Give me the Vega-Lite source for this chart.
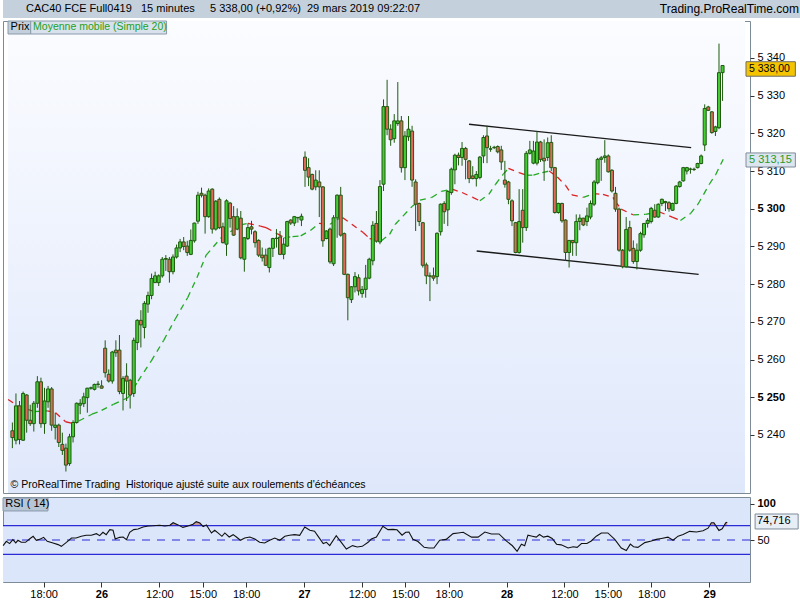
{
  "$schema": "https://vega.github.io/schema/vega-lite/v6.json",
  "padding": 0,
  "spacing": 2,
  "background": "white",
  "config": {
    "font": "Liberation Sans",
    "view": {"stroke": "#7d8b99"},
    "axis": {"labelFont": "Liberation Sans", "labelFontSize": 11, "labelColor": "#000000", "tickColor": "#333333", "domain": false, "grid": false}
  },
  "datasets": {
    "candles": [
      {"i": -26, "o": 5241.1, "h": 5243.3, "l": 5236.5, "c": 5239.3},
      {"i": -25, "o": 5238.6, "h": 5251.0, "l": 5237.5, "c": 5247.7},
      {"i": -24, "o": 5247.7, "h": 5249.0, "l": 5237.5, "c": 5238.8},
      {"i": -23, "o": 5238.6, "h": 5251.5, "l": 5238.4, "c": 5251.0},
      {"i": -22, "o": 5250.6, "h": 5250.8, "l": 5240.6, "c": 5243.9},
      {"i": -21, "o": 5243.9, "h": 5248.0, "l": 5242.4, "c": 5243.0},
      {"i": -20, "o": 5243.0, "h": 5249.0, "l": 5240.9, "c": 5248.4},
      {"i": -19, "o": 5248.4, "h": 5255.6, "l": 5247.2, "c": 5254.1},
      {"i": -18, "o": 5254.1, "h": 5255.2, "l": 5241.9, "c": 5243.0},
      {"i": -17, "o": 5243.0, "h": 5252.5, "l": 5240.3, "c": 5249.0},
      {"i": -16, "o": 5248.8, "h": 5253.0, "l": 5247.2, "c": 5252.2},
      {"i": -15, "o": 5252.2, "h": 5252.7, "l": 5241.1, "c": 5242.6},
      {"i": -14, "o": 5242.0, "h": 5245.9, "l": 5238.8, "c": 5242.6},
      {"i": -13, "o": 5242.6, "h": 5243.0, "l": 5236.8, "c": 5238.0},
      {"i": -12, "o": 5237.5, "h": 5240.6, "l": 5234.7, "c": 5235.9},
      {"i": -11, "o": 5236.5, "h": 5237.7, "l": 5230.3, "c": 5232.0},
      {"i": -10, "o": 5232.4, "h": 5240.3, "l": 5231.8, "c": 5239.5},
      {"i": -9, "o": 5239.5, "h": 5243.9, "l": 5238.0, "c": 5243.3},
      {"i": -8, "o": 5243.3, "h": 5248.6, "l": 5243.0, "c": 5248.4},
      {"i": -7, "o": 5247.9, "h": 5249.5, "l": 5245.5, "c": 5248.4},
      {"i": -6, "o": 5248.3, "h": 5251.2, "l": 5247.4, "c": 5250.1},
      {"i": -5, "o": 5249.9, "h": 5252.5, "l": 5245.9, "c": 5252.4},
      {"i": -4, "o": 5252.4, "h": 5252.8, "l": 5252.0, "c": 5252.5},
      {"i": -3, "o": 5252.1, "h": 5253.6, "l": 5251.8, "c": 5253.4},
      {"i": -2, "o": 5253.4, "h": 5254.3, "l": 5252.5, "c": 5253.5},
      {"i": -1, "o": 5253.0, "h": 5254.5, "l": 5252.4, "c": 5252.4},
      {"i": 0, "o": 5263.0, "h": 5265.1, "l": 5255.2, "c": 5256.5},
      {"i": 1, "o": 5256.1, "h": 5257.4, "l": 5253.9, "c": 5254.3},
      {"i": 2, "o": 5254.3, "h": 5262.3, "l": 5253.6, "c": 5262.0},
      {"i": 3, "o": 5262.5, "h": 5265.1, "l": 5260.7, "c": 5261.8},
      {"i": 4, "o": 5262.5, "h": 5266.5, "l": 5250.8, "c": 5251.5},
      {"i": 5, "o": 5251.0, "h": 5255.6, "l": 5246.5, "c": 5255.0},
      {"i": 6, "o": 5255.6, "h": 5259.0, "l": 5249.0, "c": 5254.3},
      {"i": 7, "o": 5254.5, "h": 5254.9, "l": 5247.0, "c": 5250.6},
      {"i": 8, "o": 5251.0, "h": 5265.8, "l": 5250.1, "c": 5265.1},
      {"i": 9, "o": 5264.5, "h": 5270.7, "l": 5262.5, "c": 5270.4},
      {"i": 10, "o": 5270.4, "h": 5273.1, "l": 5263.2, "c": 5269.2},
      {"i": 11, "o": 5268.5, "h": 5275.5, "l": 5265.6, "c": 5274.9},
      {"i": 12, "o": 5274.7, "h": 5278.0, "l": 5272.4, "c": 5277.0},
      {"i": 13, "o": 5277.0, "h": 5282.8, "l": 5276.0, "c": 5281.5},
      {"i": 14, "o": 5280.4, "h": 5283.3, "l": 5280.4, "c": 5282.2},
      {"i": 15, "o": 5280.4, "h": 5282.6, "l": 5279.5, "c": 5282.2},
      {"i": 16, "o": 5282.2, "h": 5287.2, "l": 5281.7, "c": 5286.6},
      {"i": 17, "o": 5286.6, "h": 5287.7, "l": 5283.5, "c": 5286.8},
      {"i": 18, "o": 5286.6, "h": 5287.2, "l": 5280.4, "c": 5283.3},
      {"i": 19, "o": 5283.3, "h": 5287.9, "l": 5282.6, "c": 5287.2},
      {"i": 20, "o": 5287.2, "h": 5290.5, "l": 5286.8, "c": 5289.6},
      {"i": 21, "o": 5289.6, "h": 5292.0, "l": 5288.5, "c": 5291.2},
      {"i": 22, "o": 5291.2, "h": 5292.5, "l": 5289.0, "c": 5290.0},
      {"i": 23, "o": 5290.1, "h": 5291.5, "l": 5287.5, "c": 5288.4},
      {"i": 24, "o": 5287.9, "h": 5294.5, "l": 5287.7, "c": 5291.6},
      {"i": 25, "o": 5291.5, "h": 5296.3, "l": 5291.0, "c": 5296.2},
      {"i": 26, "o": 5296.7, "h": 5304.5, "l": 5296.0, "c": 5303.6},
      {"i": 27, "o": 5304.1, "h": 5305.6, "l": 5303.0, "c": 5303.6},
      {"i": 28, "o": 5303.6, "h": 5304.0, "l": 5293.4, "c": 5297.9},
      {"i": 29, "o": 5297.9, "h": 5305.4, "l": 5297.6, "c": 5304.7},
      {"i": 30, "o": 5305.2, "h": 5305.4, "l": 5293.4, "c": 5294.6},
      {"i": 31, "o": 5294.6, "h": 5302.3, "l": 5294.2, "c": 5302.0},
      {"i": 32, "o": 5302.5, "h": 5303.0, "l": 5294.6, "c": 5295.0},
      {"i": 33, "o": 5295.2, "h": 5296.3, "l": 5290.8, "c": 5291.0},
      {"i": 34, "o": 5290.6, "h": 5302.5, "l": 5287.5, "c": 5302.1},
      {"i": 35, "o": 5301.5, "h": 5301.8, "l": 5295.0, "c": 5297.4},
      {"i": 36, "o": 5297.9, "h": 5300.7, "l": 5292.8, "c": 5293.0},
      {"i": 37, "o": 5294.6, "h": 5300.1, "l": 5294.3, "c": 5297.9},
      {"i": 38, "o": 5297.5, "h": 5299.4, "l": 5286.6, "c": 5287.0},
      {"i": 39, "o": 5286.6, "h": 5292.5, "l": 5283.3, "c": 5292.3},
      {"i": 40, "o": 5292.1, "h": 5296.1, "l": 5291.7, "c": 5295.0},
      {"i": 41, "o": 5295.2, "h": 5296.8, "l": 5293.2, "c": 5294.6},
      {"i": 42, "o": 5293.9, "h": 5294.3, "l": 5289.7, "c": 5291.0},
      {"i": 43, "o": 5291.6, "h": 5291.9, "l": 5287.2, "c": 5287.7},
      {"i": 44, "o": 5287.7, "h": 5289.7, "l": 5286.0, "c": 5287.0},
      {"i": 45, "o": 5287.7, "h": 5289.4, "l": 5284.8, "c": 5285.0},
      {"i": 46, "o": 5284.4, "h": 5289.7, "l": 5283.1, "c": 5289.5},
      {"i": 47, "o": 5289.5, "h": 5292.3, "l": 5287.2, "c": 5292.1},
      {"i": 48, "o": 5292.1, "h": 5294.6, "l": 5289.7, "c": 5292.2},
      {"i": 49, "o": 5292.5, "h": 5294.1, "l": 5287.7, "c": 5287.9},
      {"i": 50, "o": 5287.9, "h": 5292.3, "l": 5286.6, "c": 5290.6},
      {"i": 51, "o": 5290.1, "h": 5296.8, "l": 5289.9, "c": 5296.6},
      {"i": 52, "o": 5297.0, "h": 5297.2, "l": 5295.7, "c": 5296.2},
      {"i": 53, "o": 5296.2, "h": 5298.1, "l": 5295.4, "c": 5297.9},
      {"i": 54, "o": 5297.6, "h": 5297.8, "l": 5296.3, "c": 5297.7},
      {"i": 55, "o": 5297.0, "h": 5298.7, "l": 5295.4, "c": 5298.0},
      {"i": 56, "o": 5313.7, "h": 5315.2, "l": 5305.8, "c": 5310.2},
      {"i": 57, "o": 5310.9, "h": 5313.4, "l": 5306.0, "c": 5308.4},
      {"i": 58, "o": 5309.1, "h": 5309.3, "l": 5304.9, "c": 5305.2},
      {"i": 59, "o": 5305.8, "h": 5310.2, "l": 5304.9, "c": 5307.6},
      {"i": 60, "o": 5307.1, "h": 5310.2, "l": 5297.8, "c": 5305.8},
      {"i": 61, "o": 5305.8, "h": 5306.0, "l": 5289.9, "c": 5291.5},
      {"i": 62, "o": 5292.1, "h": 5294.3, "l": 5291.9, "c": 5294.1},
      {"i": 63, "o": 5294.6, "h": 5295.0, "l": 5285.4, "c": 5285.9},
      {"i": 64, "o": 5285.4, "h": 5298.3, "l": 5284.8, "c": 5297.6},
      {"i": 65, "o": 5297.6, "h": 5303.8, "l": 5292.3, "c": 5303.6},
      {"i": 66, "o": 5303.6, "h": 5305.8, "l": 5292.6, "c": 5293.0},
      {"i": 67, "o": 5293.4, "h": 5293.7, "l": 5282.4, "c": 5282.6},
      {"i": 68, "o": 5282.6, "h": 5282.8, "l": 5270.4, "c": 5276.4},
      {"i": 69, "o": 5275.9, "h": 5279.5, "l": 5275.0, "c": 5279.3},
      {"i": 70, "o": 5279.3, "h": 5283.2, "l": 5277.8, "c": 5282.0},
      {"i": 71, "o": 5281.7, "h": 5282.6, "l": 5277.0, "c": 5278.2},
      {"i": 72, "o": 5277.5, "h": 5279.5, "l": 5276.4, "c": 5278.6},
      {"i": 73, "o": 5278.6, "h": 5285.1, "l": 5276.4, "c": 5281.6},
      {"i": 74, "o": 5281.6, "h": 5287.0, "l": 5281.3, "c": 5286.6},
      {"i": 75, "o": 5286.2, "h": 5296.7, "l": 5285.0, "c": 5295.6},
      {"i": 76, "o": 5296.1, "h": 5299.4, "l": 5291.0, "c": 5291.4},
      {"i": 77, "o": 5291.2, "h": 5307.6, "l": 5290.6, "c": 5305.9},
      {"i": 78, "o": 5306.5, "h": 5329.0, "l": 5304.7, "c": 5327.1},
      {"i": 79, "o": 5327.1, "h": 5334.2, "l": 5319.5, "c": 5321.1},
      {"i": 80, "o": 5321.1, "h": 5322.4, "l": 5316.7, "c": 5318.3},
      {"i": 81, "o": 5318.6, "h": 5325.1, "l": 5317.5, "c": 5323.3},
      {"i": 82, "o": 5322.6, "h": 5333.6, "l": 5322.0, "c": 5323.3},
      {"i": 83, "o": 5323.3, "h": 5324.6, "l": 5309.6, "c": 5310.9},
      {"i": 84, "o": 5310.9, "h": 5320.6, "l": 5307.6, "c": 5319.3},
      {"i": 85, "o": 5319.1, "h": 5324.6, "l": 5318.0, "c": 5321.1},
      {"i": 86, "o": 5320.6, "h": 5322.0, "l": 5305.8, "c": 5307.6},
      {"i": 87, "o": 5307.1, "h": 5307.8, "l": 5294.1, "c": 5301.2},
      {"i": 88, "o": 5301.4, "h": 5301.6, "l": 5295.4, "c": 5296.6},
      {"i": 89, "o": 5296.3, "h": 5296.5, "l": 5284.4, "c": 5285.0},
      {"i": 90, "o": 5285.1, "h": 5285.7, "l": 5280.0, "c": 5282.2},
      {"i": 91, "o": 5282.2, "h": 5283.1, "l": 5275.5, "c": 5282.1},
      {"i": 92, "o": 5282.2, "h": 5284.4, "l": 5280.9, "c": 5281.6},
      {"i": 93, "o": 5282.0, "h": 5293.7, "l": 5280.0, "c": 5293.5},
      {"i": 94, "o": 5293.9, "h": 5301.4, "l": 5292.9, "c": 5301.2},
      {"i": 95, "o": 5301.4, "h": 5302.0, "l": 5296.0, "c": 5299.2},
      {"i": 96, "o": 5299.7, "h": 5304.9, "l": 5295.4, "c": 5304.6},
      {"i": 97, "o": 5304.3, "h": 5310.9, "l": 5303.7, "c": 5310.5},
      {"i": 98, "o": 5310.3, "h": 5314.6, "l": 5306.5, "c": 5314.2},
      {"i": 99, "o": 5314.2, "h": 5314.9, "l": 5311.5, "c": 5313.6},
      {"i": 100, "o": 5313.6, "h": 5317.7, "l": 5311.4, "c": 5316.0},
      {"i": 101, "o": 5316.0, "h": 5316.4, "l": 5307.8, "c": 5313.1},
      {"i": 102, "o": 5312.7, "h": 5312.9, "l": 5306.8, "c": 5308.0},
      {"i": 103, "o": 5308.7, "h": 5311.3, "l": 5307.8, "c": 5308.0},
      {"i": 104, "o": 5308.0, "h": 5310.0, "l": 5305.9, "c": 5309.1},
      {"i": 105, "o": 5308.3, "h": 5314.0, "l": 5307.8, "c": 5313.7},
      {"i": 106, "o": 5314.0, "h": 5319.5, "l": 5312.1, "c": 5318.9},
      {"i": 107, "o": 5319.3, "h": 5322.0, "l": 5312.1, "c": 5316.2},
      {"i": 108, "o": 5315.8, "h": 5316.7, "l": 5315.1, "c": 5315.9},
      {"i": 109, "o": 5316.2, "h": 5316.7, "l": 5315.8, "c": 5316.3},
      {"i": 110, "o": 5316.5, "h": 5316.8, "l": 5314.7, "c": 5315.1},
      {"i": 111, "o": 5315.6, "h": 5316.7, "l": 5310.3, "c": 5312.4},
      {"i": 112, "o": 5307.6, "h": 5312.7, "l": 5305.6, "c": 5306.5},
      {"i": 113, "o": 5307.1, "h": 5307.4, "l": 5301.2, "c": 5302.5},
      {"i": 114, "o": 5302.1, "h": 5302.5, "l": 5295.4, "c": 5296.8},
      {"i": 115, "o": 5296.3, "h": 5296.5, "l": 5288.2, "c": 5288.4},
      {"i": 116, "o": 5288.4, "h": 5305.2, "l": 5288.1, "c": 5296.6},
      {"i": 117, "o": 5299.6, "h": 5305.2, "l": 5291.0, "c": 5295.0},
      {"i": 118, "o": 5295.0, "h": 5315.3, "l": 5294.1, "c": 5314.7},
      {"i": 119, "o": 5314.7, "h": 5318.0, "l": 5314.4, "c": 5315.6},
      {"i": 120, "o": 5312.1, "h": 5318.0, "l": 5311.8, "c": 5315.3},
      {"i": 121, "o": 5312.1, "h": 5320.6, "l": 5311.5, "c": 5317.7},
      {"i": 122, "o": 5317.7, "h": 5318.0, "l": 5312.4, "c": 5313.1},
      {"i": 123, "o": 5313.4, "h": 5318.4, "l": 5307.4, "c": 5312.7},
      {"i": 124, "o": 5313.6, "h": 5318.9, "l": 5312.7, "c": 5317.5},
      {"i": 125, "o": 5317.6, "h": 5319.5, "l": 5310.0, "c": 5310.9},
      {"i": 126, "o": 5310.9, "h": 5311.1, "l": 5298.7, "c": 5299.0},
      {"i": 127, "o": 5299.0, "h": 5301.6, "l": 5298.7, "c": 5301.4},
      {"i": 128, "o": 5301.4, "h": 5301.6, "l": 5296.3, "c": 5296.8},
      {"i": 129, "o": 5297.0, "h": 5297.2, "l": 5286.2, "c": 5288.4},
      {"i": 130, "o": 5288.4, "h": 5291.7, "l": 5284.4, "c": 5291.6},
      {"i": 131, "o": 5291.6, "h": 5291.7, "l": 5287.5, "c": 5291.0},
      {"i": 132, "o": 5291.0, "h": 5298.5, "l": 5287.5, "c": 5296.6},
      {"i": 133, "o": 5296.6, "h": 5298.5, "l": 5294.3, "c": 5297.5},
      {"i": 134, "o": 5297.5, "h": 5297.6, "l": 5295.4, "c": 5295.7},
      {"i": 135, "o": 5296.6, "h": 5300.3, "l": 5295.4, "c": 5298.1},
      {"i": 136, "o": 5297.8, "h": 5302.2, "l": 5297.2, "c": 5301.4},
      {"i": 137, "o": 5301.2, "h": 5307.6, "l": 5300.7, "c": 5307.1},
      {"i": 138, "o": 5306.9, "h": 5313.5, "l": 5306.5, "c": 5313.1},
      {"i": 139, "o": 5313.1, "h": 5314.0, "l": 5307.4, "c": 5313.5},
      {"i": 140, "o": 5313.6, "h": 5318.2, "l": 5312.2, "c": 5314.0},
      {"i": 141, "o": 5314.0, "h": 5314.4, "l": 5309.6, "c": 5309.8},
      {"i": 142, "o": 5310.2, "h": 5310.5, "l": 5304.3, "c": 5304.7},
      {"i": 143, "o": 5304.1, "h": 5305.8, "l": 5299.2, "c": 5299.9},
      {"i": 144, "o": 5299.9, "h": 5300.3, "l": 5288.6, "c": 5289.0},
      {"i": 145, "o": 5289.0, "h": 5289.3, "l": 5284.2, "c": 5284.6},
      {"i": 146, "o": 5284.6, "h": 5297.8, "l": 5284.4, "c": 5294.5},
      {"i": 147, "o": 5295.0, "h": 5296.8, "l": 5288.6, "c": 5289.0},
      {"i": 148, "o": 5289.5, "h": 5291.6, "l": 5285.4, "c": 5286.0},
      {"i": 149, "o": 5286.0, "h": 5290.8, "l": 5283.9, "c": 5289.0},
      {"i": 150, "o": 5289.0, "h": 5293.9, "l": 5288.6, "c": 5293.4},
      {"i": 151, "o": 5293.1, "h": 5296.2, "l": 5292.3, "c": 5296.1},
      {"i": 152, "o": 5296.1, "h": 5297.5, "l": 5295.0, "c": 5296.9},
      {"i": 153, "o": 5296.6, "h": 5300.5, "l": 5296.1, "c": 5300.1},
      {"i": 154, "o": 5299.6, "h": 5301.2, "l": 5297.6, "c": 5297.8},
      {"i": 155, "o": 5297.8, "h": 5301.4, "l": 5297.6, "c": 5301.2},
      {"i": 156, "o": 5301.4, "h": 5302.7, "l": 5300.7, "c": 5302.5},
      {"i": 157, "o": 5301.9, "h": 5302.1, "l": 5299.4, "c": 5301.6},
      {"i": 158, "o": 5301.6, "h": 5302.0, "l": 5299.2, "c": 5300.0},
      {"i": 159, "o": 5299.6, "h": 5301.6, "l": 5299.4, "c": 5301.4},
      {"i": 160, "o": 5301.4, "h": 5306.3, "l": 5301.2, "c": 5306.0},
      {"i": 161, "o": 5305.9, "h": 5307.4, "l": 5305.6, "c": 5307.1},
      {"i": 162, "o": 5307.4, "h": 5311.1, "l": 5307.2, "c": 5310.9},
      {"i": 163, "o": 5310.0, "h": 5311.1, "l": 5309.1, "c": 5310.9},
      {"i": 164, "o": 5310.5, "h": 5310.9, "l": 5309.3, "c": 5310.5},
      {"i": 165, "o": 5310.5, "h": 5310.9, "l": 5310.0, "c": 5310.4},
      {"i": 166, "o": 5310.9, "h": 5312.2, "l": 5310.7, "c": 5312.0},
      {"i": 167, "o": 5312.0, "h": 5314.4, "l": 5311.8, "c": 5314.0},
      {"i": 168, "o": 5316.9, "h": 5327.7, "l": 5315.3, "c": 5326.6},
      {"i": 169, "o": 5327.0, "h": 5327.3, "l": 5325.9, "c": 5326.1},
      {"i": 170, "o": 5325.7, "h": 5325.9, "l": 5319.9, "c": 5320.2},
      {"i": 171, "o": 5320.5, "h": 5322.0, "l": 5319.3, "c": 5321.7},
      {"i": 172, "o": 5321.5, "h": 5343.8, "l": 5321.1, "c": 5336.1},
      {"i": 173, "o": 5336.1, "h": 5338.1, "l": 5328.6, "c": 5338.0}
    ],
    "ma": [
      {"i": -27.2, "ma": 5249.4}, {"i": -24.5, "ma": 5247.7}, {"i": -19.9, "ma": 5246.2},
      {"i": -16.2, "ma": 5246.4}, {"i": -13.9, "ma": 5245.9}, {"i": -11.1, "ma": 5243.5},
      {"i": -9.3, "ma": 5243.1}, {"i": -7.4, "ma": 5243.7}, {"i": -3.7, "ma": 5245.5},
      {"i": -1, "ma": 5246.5}, {"i": 2.3, "ma": 5248.1}, {"i": 6.4, "ma": 5249.9},
      {"i": 9.2, "ma": 5254.3}, {"i": 12.9, "ma": 5259.6}, {"i": 16.4, "ma": 5265.1},
      {"i": 19.6, "ma": 5270.7}, {"i": 23.1, "ma": 5276.4}, {"i": 25.7, "ma": 5281.7},
      {"i": 28.3, "ma": 5287.7}, {"i": 32.5, "ma": 5292.3}, {"i": 38, "ma": 5295.7},
      {"i": 40, "ma": 5296.1}, {"i": 43.5, "ma": 5295.4}, {"i": 45.1, "ma": 5295.0},
      {"i": 48.2, "ma": 5293.4}, {"i": 50.2, "ma": 5292.3}, {"i": 52.5, "ma": 5292.6},
      {"i": 54.8, "ma": 5292.8}, {"i": 57.6, "ma": 5294.3}, {"i": 59.9, "ma": 5296.1},
      {"i": 63.1, "ma": 5295.9}, {"i": 64.9, "ma": 5297.2}, {"i": 66.6, "ma": 5297.6},
      {"i": 69.1, "ma": 5295.9}, {"i": 72.3, "ma": 5293.7}, {"i": 74.1, "ma": 5292.1},
      {"i": 77.4, "ma": 5291.5}, {"i": 79.7, "ma": 5293.2}, {"i": 81.3, "ma": 5295.9},
      {"i": 83.5, "ma": 5298.1}, {"i": 86, "ma": 5300.6}, {"i": 88.2, "ma": 5302.3},
      {"i": 91.5, "ma": 5303.0}, {"i": 94.2, "ma": 5304.6}, {"i": 97.2, "ma": 5305.2},
      {"i": 100, "ma": 5304.3}, {"i": 103, "ma": 5303.0}, {"i": 105, "ma": 5302.1},
      {"i": 107.5, "ma": 5303.8}, {"i": 109.4, "ma": 5306.5}, {"i": 111.5, "ma": 5309.1},
      {"i": 113, "ma": 5310.7}, {"i": 116, "ma": 5309.6}, {"i": 118, "ma": 5308.9},
      {"i": 120, "ma": 5308.9}, {"i": 122.5, "ma": 5309.6}, {"i": 124.4, "ma": 5310.0},
      {"i": 126.7, "ma": 5308.4}, {"i": 129, "ma": 5306.2}, {"i": 130.8, "ma": 5303.7},
      {"i": 134, "ma": 5303.0}, {"i": 136.8, "ma": 5304.0}, {"i": 139.5, "ma": 5303.8},
      {"i": 142.3, "ma": 5303.0}, {"i": 143, "ma": 5301.9}, {"i": 144.6, "ma": 5299.9},
      {"i": 147.9, "ma": 5298.4}, {"i": 151.4, "ma": 5298.5}, {"i": 155.2, "ma": 5299.2},
      {"i": 158.9, "ma": 5297.8}, {"i": 161.2, "ma": 5296.9}, {"i": 164, "ma": 5298.7},
      {"i": 166.1, "ma": 5301.2}, {"i": 167.7, "ma": 5303.8}, {"i": 169.3, "ma": 5306.5},
      {"i": 171.1, "ma": 5309.1}, {"i": 173.2, "ma": 5313.15}
    ],
    "rsi": [
      {"i": -27.2, "v": 42.2}, {"i": -26.3, "v": 48.2}, {"i": -25.4, "v": 45.0}, {"i": -24.5, "v": 50.5},
      {"i": -23.7, "v": 45.9}, {"i": -23.1, "v": 49.6}, {"i": -22.2, "v": 46.8}, {"i": -21.0, "v": 46.8},
      {"i": -19.9, "v": 51.4}, {"i": -18.9, "v": 55.1}, {"i": -18.0, "v": 49.6}, {"i": -16.9, "v": 51.4},
      {"i": -16.0, "v": 53.7}, {"i": -15.0, "v": 48.2}, {"i": -13.4, "v": 45.9}, {"i": -12.0, "v": 43.6},
      {"i": -11.1, "v": 41.2}, {"i": -9.7, "v": 46.8}, {"i": -8.3, "v": 52.8}, {"i": -7.0, "v": 52.8},
      {"i": -5.6, "v": 55.1}, {"i": -4.2, "v": 56.5}, {"i": -2.8, "v": 56.5}, {"i": -1.4, "v": 58.8},
      {"i": -0.5, "v": 56.1}, {"i": 0.4, "v": 60.7}, {"i": 1.3, "v": 57.4}, {"i": 2.3, "v": 64.4},
      {"i": 3.2, "v": 63.5}, {"i": 3.8, "v": 51.4}, {"i": 5.0, "v": 53.7}, {"i": 6.0, "v": 54.2},
      {"i": 6.9, "v": 50.5}, {"i": 7.8, "v": 60.7}, {"i": 8.9, "v": 64.4}, {"i": 10.1, "v": 65.3},
      {"i": 11.5, "v": 68.1}, {"i": 12.9, "v": 69.5}, {"i": 14.2, "v": 69.8}, {"i": 16.1, "v": 70.5},
      {"i": 17.5, "v": 69.5}, {"i": 18.9, "v": 70.5}, {"i": 19.8, "v": 74.0}, {"i": 21.2, "v": 71.0},
      {"i": 22.5, "v": 67.5}, {"i": 23.9, "v": 69.5}, {"i": 25.3, "v": 72.0}, {"i": 26.2, "v": 75.5},
      {"i": 27.2, "v": 73.5}, {"i": 28.1, "v": 68.5}, {"i": 29.0, "v": 71.0}, {"i": 30.4, "v": 59.8},
      {"i": 31.3, "v": 63.5}, {"i": 32.2, "v": 59.8}, {"i": 33.3, "v": 55.1}, {"i": 34.1, "v": 59.8},
      {"i": 35.3, "v": 54.2}, {"i": 36.4, "v": 57.4}, {"i": 37.3, "v": 54.2}, {"i": 38.4, "v": 49.6},
      {"i": 39.6, "v": 52.8}, {"i": 41.0, "v": 54.2}, {"i": 42.4, "v": 51.4}, {"i": 43.7, "v": 46.8},
      {"i": 45.1, "v": 45.9}, {"i": 46.5, "v": 49.6}, {"i": 47.9, "v": 52.8}, {"i": 49.3, "v": 49.6},
      {"i": 50.7, "v": 55.1}, {"i": 52.0, "v": 56.5}, {"i": 53.4, "v": 57.4}, {"i": 54.8, "v": 56.5},
      {"i": 56.2, "v": 68.1}, {"i": 57.6, "v": 63.5}, {"i": 58.9, "v": 62.1}, {"i": 59.9, "v": 55.1},
      {"i": 61.3, "v": 45.0}, {"i": 62.2, "v": 46.8}, {"i": 63.1, "v": 42.2}, {"i": 64.9, "v": 56.1},
      {"i": 66.3, "v": 46.8}, {"i": 67.7, "v": 37.5}, {"i": 69.4, "v": 42.2}, {"i": 70.7, "v": 40.3},
      {"i": 72.1, "v": 41.2}, {"i": 73.7, "v": 46.8}, {"i": 74.6, "v": 51.4}, {"i": 76.0, "v": 54.2},
      {"i": 77.8, "v": 69.0}, {"i": 79.2, "v": 64.4}, {"i": 80.6, "v": 64.8}, {"i": 81.7, "v": 64.2},
      {"i": 83.1, "v": 56.7}, {"i": 84.1, "v": 60.7}, {"i": 85.0, "v": 61.1}, {"i": 86.1, "v": 50.9},
      {"i": 87.5, "v": 47.8}, {"i": 89.2, "v": 39.8}, {"i": 90.5, "v": 38.9}, {"i": 91.9, "v": 38.9},
      {"i": 93.5, "v": 49.6}, {"i": 95.3, "v": 50.9}, {"i": 97.2, "v": 58.9}, {"i": 98.6, "v": 59.8},
      {"i": 100.0, "v": 60.7}, {"i": 102.3, "v": 54.0}, {"i": 104.1, "v": 54.0}, {"i": 106.0, "v": 61.1},
      {"i": 107.8, "v": 58.4}, {"i": 109.9, "v": 58.4}, {"i": 111.9, "v": 48.7}, {"i": 113.6, "v": 42.0},
      {"i": 114.9, "v": 34.4}, {"i": 116.1, "v": 44.2}, {"i": 117.0, "v": 42.0}, {"i": 117.9, "v": 56.7},
      {"i": 119.1, "v": 55.3}, {"i": 120.2, "v": 54.0}, {"i": 121.1, "v": 57.6}, {"i": 122.2, "v": 54.0},
      {"i": 123.4, "v": 55.3}, {"i": 124.6, "v": 52.2}, {"i": 125.8, "v": 44.2}, {"i": 127.1, "v": 43.3},
      {"i": 129.0, "v": 38.9}, {"i": 130.4, "v": 40.7}, {"i": 131.5, "v": 39.8}, {"i": 132.7, "v": 45.1},
      {"i": 134.2, "v": 45.1}, {"i": 135.4, "v": 48.7}, {"i": 136.8, "v": 55.3}, {"i": 138.2, "v": 59.8},
      {"i": 140.0, "v": 59.8}, {"i": 141.9, "v": 50.9}, {"i": 143.7, "v": 38.9}, {"i": 145.1, "v": 35.3},
      {"i": 146.2, "v": 44.2}, {"i": 147.1, "v": 40.7}, {"i": 148.3, "v": 39.8}, {"i": 150.2, "v": 46.4},
      {"i": 152.0, "v": 48.7}, {"i": 153.4, "v": 50.9}, {"i": 154.8, "v": 52.2}, {"i": 156.6, "v": 54.0},
      {"i": 158.0, "v": 49.6}, {"i": 159.4, "v": 55.3}, {"i": 160.8, "v": 57.6}, {"i": 162.6, "v": 62.0},
      {"i": 164.5, "v": 61.1}, {"i": 166.3, "v": 62.9}, {"i": 167.7, "v": 66.4}, {"i": 168.6, "v": 74.0},
      {"i": 169.3, "v": 74.0}, {"i": 170.7, "v": 63.3}, {"i": 171.6, "v": 65.6}, {"i": 172.6, "v": 74.0},
      {"i": 173.0, "v": 74.716}
    ],
    "trend": [
      {"i": 101.96, "p": 5322.4, "i2": 164.2, "p2": 5316.2},
      {"i": 104.1, "p": 5288.8, "i2": 166.3, "p2": 5282.6}
    ]
  },
  "vconcat": [
    {
      "width": 800,
      "height": 18,
      "view": {"fill": "#c4d1dd", "stroke": null},
      "data": {"values": [
        {"t": "CAC40 FCE Full0419\u00a0\u00a0\u00a015 minutes\u00a0\u00a0\u00a0\u00a0\u00a05 338,00 (+0,92%)\u00a0\u00a029 mars 2019 09:22:07", "s": "L"},
        {"t": "Trading.ProRealTime.com", "s": "R"}
      ]},
      "layer": [
        {
          "transform": [{"filter": "datum.s == 'L'"}],
          "mark": {"type": "text", "align": "left", "baseline": "middle", "fontSize": 11, "color": "#000000"},
          "encoding": {
            "x": {"field": "s", "type": "nominal", "scale": {"type": "point", "domain": ["L", "R"], "range": [23, 796], "padding": 0}, "axis": null},
            "text": {"field": "t"}
          }
        },
        {
          "transform": [{"filter": "datum.s == 'R'"}],
          "mark": {"type": "text", "align": "right", "baseline": "middle", "fontSize": 12, "color": "#000000"},
          "encoding": {
            "x": {"field": "s", "type": "nominal", "axis": null},
            "text": {"field": "t"}
          }
        }
      ]
    },
    {
      "width": 747,
      "height": 472,
      "view": {"stroke": "#7d8b99"},
      "layer": [
        {
          "data": {"values": [{}]},
          "mark": {"type": "rect", "fill": {"gradient": "linear", "x1": 0, "y1": 0, "x2": 0, "y2": 1, "stops": [{"offset": 0, "color": "#fbfcff"}, {"offset": 1, "color": "#dfe8fb"}]}},
          "encoding": {
            "x": {"datum": -27.23, "type": "quantitative", "scale": {"domain": [-27.23, 179.29], "nice": false, "zero": false}, "axis": null},
            "x2": {"datum": 179.29},
            "y": {"datum": 5349.8, "type": "quantitative", "scale": {"domain": [5224.6, 5349.8], "nice": false, "zero": false}},
            "y2": {"datum": 5224.6}
          }
        },
        {
          "data": {"name": "trend"},
          "mark": {"type": "rule", "color": "#1a1a1a", "strokeWidth": 1.4},
          "encoding": {
            "x": {"field": "i", "type": "quantitative", "axis": null},
            "x2": {"field": "i2"},
            "y": {"field": "p", "type": "quantitative"},
            "y2": {"field": "p2"}
          }
        },
        {
          "data": {"name": "ma"},
          "transform": [
            {"window": [{"op": "lag", "field": "ma", "as": "pma"}, {"op": "lag", "field": "i", "as": "pi"}], "sort": [{"field": "i", "order": "ascending"}]},
            {"filter": "datum.pma != null"}
          ],
          "mark": {"type": "rule", "strokeWidth": 1.3, "strokeDash": [6, 5]},
          "encoding": {
            "x": {"field": "pi", "type": "quantitative", "axis": null},
            "x2": {"field": "i"},
            "y": {"field": "pma", "type": "quantitative"},
            "y2": {"field": "ma"},
            "color": {"condition": {"test": "datum.ma >= datum.pma", "value": "#22aa22"}, "value": "#dd2222"}
          }
        },
        {
          "data": {"name": "candles"},
          "mark": {"type": "rule", "color": "#1f5a10", "strokeWidth": 1},
          "encoding": {
            "x": {"field": "i", "type": "quantitative", "axis": null},
            "y": {
              "field": "l", "type": "quantitative",
              "axis": {
                "orient": "right", "title": null,
                "values": [5240, 5250, 5260, 5270, 5280, 5290, 5300, 5310, 5320, 5330, 5340],
                "labelExpr": "replace(format(datum.value, ','), ',', ' ')",
                "labelFontWeight": {"condition": {"test": "datum.value % 50 === 0", "value": "bold"}, "value": "normal"},
                "tickSize": 4, "labelPadding": 3
              }
            },
            "y2": {"field": "h"}
          }
        },
        {
          "data": {"name": "candles"},
          "mark": {"type": "bar", "size": 3, "stroke": "#1f5a10", "strokeWidth": 1},
          "encoding": {
            "x": {"field": "i", "type": "quantitative", "axis": null},
            "y": {"field": "o", "type": "quantitative"},
            "y2": {"field": "c"},
            "fill": {"condition": {"test": "datum.c >= datum.o", "value": "#44cc33"}, "value": "#e06a5a"}
          }
        },
        {
          "data": {"values": [{}]},
          "mark": {"type": "rect", "fill": "#c3cfdb", "stroke": "#8a9aab", "strokeWidth": 1},
          "encoding": {
            "x": {"datum": -27.23, "type": "quantitative", "axis": null},
            "x2": {"datum": -20.87},
            "y": {"datum": 5349.8, "type": "quantitative"},
            "y2": {"datum": 5346.35}
          }
        },
        {
          "data": {"values": [{}]},
          "mark": {"type": "rect", "fill": "#d9e2ec", "stroke": "#8a9aab", "strokeWidth": 1},
          "encoding": {
            "x": {"datum": -20.87, "type": "quantitative", "axis": null},
            "x2": {"datum": 17.2},
            "y": {"datum": 5349.8, "type": "quantitative"},
            "y2": {"datum": 5346.35}
          }
        },
        {
          "data": {"values": [{"t": "Prix"}]},
          "mark": {"type": "text", "align": "left", "baseline": "middle", "fontSize": 11, "color": "#000000"},
          "encoding": {
            "x": {"datum": -26.5, "type": "quantitative", "axis": null},
            "y": {"datum": 5348.1, "type": "quantitative"},
            "text": {"field": "t"}
          }
        },
        {
          "data": {"values": [{"t": "Moyenne mobile (Simple 20)"}]},
          "mark": {"type": "text", "align": "left", "baseline": "middle", "fontSize": 10.5, "color": "#22a022"},
          "encoding": {
            "x": {"datum": -20.2, "type": "quantitative", "axis": null},
            "y": {"datum": 5348.1, "type": "quantitative"},
            "text": {"field": "t"}
          }
        },
        {
          "data": {"values": [{"t": "\u00a9 ProRealTime Trading\u00a0\u00a0Historique ajusté suite aux roulements d'échéances"}]},
          "mark": {"type": "text", "align": "left", "baseline": "middle", "fontSize": 10.5, "color": "#000000"},
          "encoding": {
            "x": {"datum": -26.5, "type": "quantitative", "axis": null},
            "y": {"datum": 5226.7, "type": "quantitative"},
            "text": {"field": "t"}
          }
        },
        {
          "data": {"values": [{}]},
          "mark": {"type": "rect", "fill": "#f5c400", "stroke": "#6b6b6b", "strokeWidth": 1},
          "encoding": {
            "x": {"datum": 179.57, "type": "quantitative", "axis": null},
            "x2": {"datum": 193.4},
            "y": {"datum": 5339.0, "type": "quantitative"},
            "y2": {"datum": 5335.15}
          }
        },
        {
          "data": {"values": [{}]},
          "mark": {"type": "rect", "fill": "#dde6f0", "stroke": "#7d8b99", "strokeWidth": 1},
          "encoding": {
            "x": {"datum": 179.57, "type": "quantitative", "axis": null},
            "x2": {"datum": 193.4},
            "y": {"datum": 5314.8, "type": "quantitative"},
            "y2": {"datum": 5311.07}
          }
        },
        {
          "data": {"values": [{"t": "5 338,00", "v": 5337.07}]},
          "mark": {"type": "text", "align": "left", "baseline": "middle", "fontSize": 10.5, "color": "#000000", "dx": 3},
          "encoding": {
            "x": {"datum": 179.57, "type": "quantitative", "axis": null},
            "y": {"field": "v", "type": "quantitative"},
            "text": {"field": "t"}
          }
        },
        {
          "data": {"values": [{"t": "5 313,15", "v": 5313.0}]},
          "mark": {"type": "text", "align": "left", "baseline": "middle", "fontSize": 11, "color": "#2a9a2a", "dx": 3},
          "encoding": {
            "x": {"datum": 179.57, "type": "quantitative", "axis": null},
            "y": {"field": "v", "type": "quantitative"},
            "text": {"field": "t"}
          }
        }
      ]
    },
    {
      "width": 747,
      "height": 85,
      "view": {"fill": "#dce6fb", "stroke": "#7d8b99"},
      "layer": [
        {
          "data": {"name": "rsi"},
          "mark": {"type": "area", "color": "#c49a9a"},
          "encoding": {
            "x": {"field": "i", "type": "quantitative", "scale": {"domain": [-27.23, 179.29], "nice": false, "zero": false}},
            "y": {"field": "v", "type": "quantitative", "scale": {"domain": [-8.3, 109.7], "nice": false, "zero": false}},
            "y2": {"datum": 70}
          }
        },
        {
          "data": {"values": [{}]},
          "mark": {"type": "rect", "fill": "#dce6fb"},
          "encoding": {
            "x": {"datum": -27.23, "type": "quantitative"},
            "x2": {"datum": 179.29},
            "y": {"datum": 70, "type": "quantitative"},
            "y2": {"datum": -8.3}
          }
        },
        {
          "data": {"values": [{"v": 70}, {"v": 30}]},
          "mark": {"type": "rule", "color": "#2a2ad6", "strokeWidth": 1.2},
          "encoding": {"y": {"field": "v", "type": "quantitative"}}
        },
        {
          "data": {"values": [{"v": 50}]},
          "mark": {"type": "rule", "color": "#2a2ad6", "strokeWidth": 1.2, "strokeDash": [8, 7]},
          "encoding": {"y": {"field": "v", "type": "quantitative"}}
        },
        {
          "data": {"name": "rsi"},
          "mark": {"type": "line", "color": "#111111", "strokeWidth": 1.1},
          "encoding": {
            "x": {
              "field": "i", "type": "quantitative",
              "axis": {
                "title": null,
                "values": [-16, 0, 16, 28, 40, 56, 72, 84, 96, 112, 128, 140, 152, 168],
                "labelExpr": "(datum.value % 56 === 0) ? ('' + (26 + datum.value / 56)) : ((((datum.value % 56) + 56) % 56) === 16 ? '12:00' : ((((datum.value % 56) + 56) % 56) === 28 ? '15:00' : '18:00'))",
                "labelFontWeight": {"condition": {"test": "datum.value % 56 === 0", "value": "bold"}, "value": "normal"},
                "tickSize": 5, "labelPadding": 1, "labelOverlap": false, "labelFlush": false
              }
            },
            "y": {
              "field": "v", "type": "quantitative",
              "axis": {
                "orient": "right", "title": null, "values": [50, 100],
                "labelFontWeight": {"condition": {"test": "datum.value === 100", "value": "bold"}, "value": "normal"},
                "tickSize": 4, "labelPadding": 3
              }
            }
          }
        },
        {
          "data": {"values": [{}]},
          "mark": {"type": "rect", "fill": "#b7c6d4", "stroke": "#8a9aab", "strokeWidth": 1},
          "encoding": {
            "x": {"datum": -27.23, "type": "quantitative"},
            "x2": {"datum": -14.79},
            "y": {"datum": 108.3, "type": "quantitative"},
            "y2": {"datum": 90.3}
          }
        },
        {
          "data": {"values": [{"t": "RSI ( 14)"}]},
          "mark": {"type": "text", "align": "left", "baseline": "middle", "fontSize": 11, "color": "#000000"},
          "encoding": {
            "x": {"datum": -26.6, "type": "quantitative"},
            "y": {"datum": 99.3, "type": "quantitative"},
            "text": {"field": "t"}
          }
        },
        {
          "data": {"values": [{}]},
          "mark": {"type": "rect", "fill": "#e8eef6", "stroke": "#7d8b99", "strokeWidth": 1},
          "encoding": {
            "x": {"datum": 180.7, "type": "quantitative"},
            "x2": {"datum": 192.6},
            "y": {"datum": 86.1, "type": "quantitative"},
            "y2": {"datum": 65.3}
          }
        },
        {
          "data": {"values": [{"t": "74,716"}]},
          "mark": {"type": "text", "align": "left", "baseline": "middle", "fontSize": 11, "color": "#000000"},
          "encoding": {
            "x": {"datum": 181.2, "type": "quantitative"},
            "y": {"datum": 75.7, "type": "quantitative"},
            "text": {"field": "t"}
          }
        }
      ]
    }
  ]
}
